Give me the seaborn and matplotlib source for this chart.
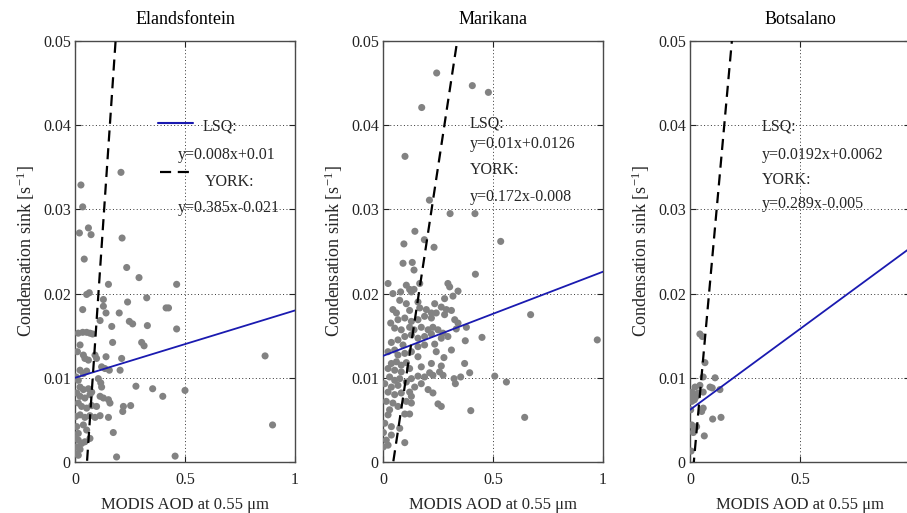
import numpy as np
import pandas as pd
import matplotlib
matplotlib.use("Agg")
import matplotlib.pyplot as plt
import seaborn as sns

# ---------------- data ----------------
sites = ["Elandsfontein", "Marikana", "Botsalano"]

elands_aod = [0.209, 0.027, 0.035, 0.061, 0.020, 0.073, 0.214, 0.042, 0.235, 0.291, 0.152, 0.462,
              0.053, 0.065, 0.129, 0.326, 0.239, 0.129, 0.035, 0.414, 0.425,
              0.141, 0.201, 0.114, 0.247, 0.262, 0.329, 0.462, 0.167,
              0.015, 0.035, 0.053, 0.068, 0.080,
              0.023, 0.171, 0.303, 0.314,
              0.038, 0.045, 0.061, 0.011, 0.141, 0.212, 0.091, 0.098,
              0.121, 0.136, 0.156, 0.205,
              0.023, 0.038, 0.053,
              0.005, 0.015,
              0.106, 0.117, 0.121,
              0.277, 0.353, 0.500, 0.399,
              0.023, 0.038, 0.061, 0.076,
              0.008, 0.023, 0.045, 0.068,
              0.114, 0.129, 0.152, 0.159,
              0.220, 0.253, 0.217,
              0.015, 0.030, 0.053, 0.076, 0.098,
              0.003, 0.023, 0.045, 0.068, 0.091, 0.114, 0.152,
              0.174,
              0.008, 0.038, 0.053, 0.015,
              0.003, 0.015, 0.030, 0.045, 0.068,
              0.008, 0.023, 0.002, 0.015,
              0.189, 0.455,
              0.864, 0.898]
elands_cs = [0.0344, 0.0329, 0.0303, 0.0278, 0.0272, 0.0270, 0.0266, 0.0241, 0.0231, 0.0219, 0.0211, 0.0211,
             0.0199, 0.0201, 0.0193, 0.0195, 0.0190, 0.0185, 0.0181, 0.0183, 0.0183,
             0.0177, 0.0177, 0.0168, 0.0167, 0.0164, 0.0162, 0.0158, 0.0161,
             0.0153, 0.0154, 0.0154, 0.0153, 0.0152,
             0.0139, 0.0142, 0.0142, 0.0138,
             0.0127, 0.0123, 0.0121, 0.0131, 0.0125, 0.0123, 0.0127, 0.0123,
             0.0113, 0.0111, 0.0109, 0.0109,
             0.0109, 0.0105, 0.0108,
             0.0101, 0.0097,
             0.0099, 0.0094, 0.0089,
             0.0090, 0.0087, 0.0085, 0.0078,
             0.0089, 0.0086, 0.0087, 0.0083,
             0.0082, 0.0078, 0.0076, 0.0080,
             0.0078, 0.0076, 0.0074, 0.0070,
             0.0066, 0.0067, 0.0060,
             0.0070, 0.0066, 0.0064, 0.0067, 0.0066,
             0.0054, 0.0056, 0.0053, 0.0055, 0.0053, 0.0055, 0.0053,
             0.0035,
             0.0042, 0.0044, 0.0038, 0.0034,
             0.0028, 0.0026, 0.0022, 0.0024, 0.0028,
             0.0018, 0.0015, 0.0010, 0.0008,
             0.0006, 0.0007,
             0.0126, 0.0044]

marik_aod = [0.244, 0.406, 0.479, 0.176, 0.100, 0.211, 0.305, 0.418, 0.145, 0.095, 0.188, 0.232, 0.535,
             0.091, 0.133, 0.141, 0.420,
             0.023, 0.106, 0.121, 0.129, 0.141, 0.167, 0.295, 0.303, 0.341,
             0.045, 0.080, 0.318, 0.280, 0.076, 0.159, 0.106, 0.235,
             0.197, 0.242, 0.265, 0.288, 0.045, 0.061, 0.121, 0.167, 0.311, 0.220,
             0.035, 0.068, 0.099, 0.129, 0.159, 0.189, 0.220, 0.280, 0.326, 0.341,
             0.053, 0.083, 0.121, 0.141, 0.174, 0.205, 0.227, 0.250, 0.273, 0.333, 0.379,
             0.099, 0.129, 0.159, 0.189, 0.220, 0.265, 0.295, 0.450, 0.374,
             0.038, 0.068, 0.091, 0.159, 0.189, 0.235, 0.242,
             0.023, 0.053, 0.068, 0.099, 0.129, 0.159, 0.311, 0.277,
             0.038, 0.061, 0.083, 0.106, 0.174, 0.220, 0.265, 0.371,
             0.023, 0.053, 0.083, 0.121, 0.212, 0.257, 0.273, 0.394,
             0.159, 0.189, 0.227, 0.323, 0.353, 0.508, 0.561, 0.329,
             0.030, 0.053, 0.076, 0.106, 0.129,
             0.008, 0.038, 0.068, 0.144, 0.174,
             0.205, 0.227,
             0.023, 0.053, 0.083, 0.121, 0.129,
             0.015, 0.045, 0.106, 0.129,
             0.250, 0.265, 0.644, 0.399,
             0.030, 0.023, 0.068, 0.099, 0.121,
             0.008, 0.038, 0.076, 0.002, 0.038, 0.015, 0.002, 0.099, 0.023,
             0.974, 0.671]
marik_cs = [0.0462, 0.0447, 0.0439, 0.0421, 0.0363, 0.0311, 0.0295, 0.0295, 0.0274, 0.0259, 0.0264, 0.0255, 0.0262,
            0.0236, 0.0237, 0.0228, 0.0223,
            0.0212, 0.0210, 0.0205, 0.0202, 0.0205, 0.0212, 0.0212, 0.0208, 0.0203,
            0.0200, 0.0202, 0.0197, 0.0194, 0.0192, 0.0190, 0.0188, 0.0188,
            0.0181, 0.0177, 0.0184, 0.0181, 0.0181, 0.0177, 0.0180, 0.0183, 0.0180, 0.0177,
            0.0165, 0.0169, 0.0171, 0.0167, 0.0169, 0.0173, 0.0171, 0.0175, 0.0169, 0.0165,
            0.0159, 0.0157, 0.0160, 0.0157, 0.0160, 0.0157, 0.0160, 0.0157, 0.0153, 0.0158, 0.0160,
            0.0149, 0.0151, 0.0147, 0.0149, 0.0152, 0.0147, 0.0149, 0.0148, 0.0144,
            0.0142, 0.0145, 0.0139, 0.0137, 0.0139, 0.0140, 0.0131,
            0.0131, 0.0133, 0.0127, 0.0129, 0.0131, 0.0125, 0.0133, 0.0124,
            0.0117, 0.0119, 0.0115, 0.0118, 0.0113, 0.0117, 0.0114, 0.0117,
            0.0111, 0.0109, 0.0107, 0.0111, 0.0106, 0.0107, 0.0103, 0.0106,
            0.0102, 0.0101, 0.0103, 0.0099, 0.0101, 0.0102, 0.0095, 0.0093,
            0.0101, 0.0097, 0.0099, 0.0095, 0.0099,
            0.0093, 0.0089, 0.0091, 0.0089, 0.0093,
            0.0086, 0.0082,
            0.0083, 0.0080, 0.0082, 0.0083, 0.0078,
            0.0072, 0.0070, 0.0072, 0.0070,
            0.0069, 0.0066, 0.0053, 0.0061,
            0.0062, 0.0056, 0.0066, 0.0057, 0.0057,
            0.0046, 0.0042, 0.0040, 0.0035, 0.0032, 0.0026, 0.0018, 0.0023, 0.0020,
            0.0145, 0.0175]

botsa_aod = [0.045, 0.056, 0.068, 0.114, 0.060, 0.045, 0.023, 0.091, 0.101, 0.136, 0.008, 0.015,
             0.030, 0.003, 0.060, 0.038, 0.008, 0.020, 0.060, 0.053, 0.103, 0.141, 0.008, 0.020,
             0.015, 0.030, 0.065, 0.005, 0.003]
botsa_cs = [0.0152, 0.0149, 0.0118, 0.0100, 0.0101, 0.0091, 0.0089, 0.0089, 0.0088, 0.0086, 0.0083, 0.0081,
            0.0078, 0.0078, 0.0083, 0.0082, 0.0072, 0.0074, 0.0064, 0.0060, 0.0051, 0.0053, 0.0044, 0.0040,
            0.0035, 0.0042, 0.0031, 0.0013, 0.0062]

# fitted regression lines (least squares and York)
lsq_slope = [0.008, 0.01, 0.0192]
lsq_icpt = [0.01, 0.0126, 0.0062]
york_slope = [0.385, 0.172, 0.289]
york_icpt = [-0.021, -0.008, -0.005]
lsq_labels = ["y=0.008x+0.01", "y=0.01x+0.0126", "y=0.0192x+0.0062"]
york_labels = ["y=0.385x-0.021", "y=0.172x-0.008", "y=0.289x-0.005"]

x_ticks = [0, 0.5, 1]
x_tick_labels = ["0", "0.5", "1"]
y_ticks = [0, 0.01, 0.02, 0.03, 0.04, 0.05]
y_tick_labels = ["0", "0.01", "0.02", "0.03", "0.04", "0.05"]

x_label = "MODIS AOD at 0.55 \u03bcm"
y_label = "Condensation sink [s$^{-1}$]"

# ---------------- style ----------------
sns.set_style("ticks")
plt.rcParams["font.family"] = ["Liberation Serif", "DejaVu Serif"]
plt.rcParams["mathtext.fontset"] = "custom"
plt.rcParams["mathtext.rm"] = "Liberation Serif"
plt.rcParams["mathtext.it"] = "Liberation Serif:italic"
plt.rcParams["mathtext.default"] = "regular"

frames = [
    pd.DataFrame({"aod": elands_aod, "cs": elands_cs}),
    pd.DataFrame({"aod": marik_aod, "cs": marik_cs}),
    pd.DataFrame({"aod": botsa_aod, "cs": botsa_cs}),
]

W, H = 907, 513
fig = plt.figure(figsize=(W / 100, H / 100), dpi=100)
fig.patch.set_facecolor("white")

ax_left = [75, 383, 690]
ax_w, ax_top, ax_bot = 220, 41, 462

# legend/annotation text placement (axes fraction)
text_pos = [
    {"lsq": (0.582, 0.798), "lsq_eq": (0.468, 0.729), "york": (0.59, 0.665), "york_eq": (0.468, 0.603)},
    {"lsq": (0.395, 0.803), "lsq_eq": (0.395, 0.755), "york": (0.395, 0.694), "york_eq": (0.395, 0.629)},
    {"lsq": (0.326, 0.798), "lsq_eq": (0.326, 0.729), "york": (0.326, 0.670), "york_eq": (0.326, 0.613)},
]

xs = np.linspace(0, 1, 400)
for i, site in enumerate(sites):
    ax = fig.add_axes([ax_left[i] / W, (H - ax_bot) / H, ax_w / W, (ax_bot - ax_top) / H])
    ax.set_facecolor("white")
    ax.grid(True, linestyle=(0, (1, 2.5)), color="#333333", linewidth=0.7)
    ax.set_axisbelow(True)

    sns.scatterplot(data=frames[i], x="aod", y="cs", ax=ax, color="#828282",
                    s=26, linewidth=0, edgecolor="none", zorder=3)

    ax.plot(xs, lsq_slope[i] * xs + lsq_icpt[i], color="#1a1ab0", lw=1.3, zorder=4)
    ax.plot(xs, york_slope[i] * xs + york_icpt[i], color="black", lw=1.6,
            linestyle=(0, (5, 3)), zorder=4)

    ax.set_xlim(0, 1)
    ax.set_ylim(0, 0.05)
    ax.set_xticks(x_ticks)
    # the last panel runs past the figure edge, so its "1" label falls outside
    labels = x_tick_labels if i < 2 else x_tick_labels[:-1] + [""]
    ax.set_xticklabels(labels)
    ax.set_yticks(y_ticks)
    ax.set_yticklabels(y_tick_labels)
    ax.tick_params(direction="in", length=4, width=0.8, top=True, right=True,
                   labelsize=11.5, colors="#222222")
    ax.tick_params(axis="x", pad=7)
    ax.tick_params(axis="y", pad=3)
    for sp in ax.spines.values():
        sp.set_visible(True)
        sp.set_color("#4a4a4a")
        sp.set_linewidth(1.0)

    ax.set_title(site, fontsize=13, pad=12, color="black")
    ax.set_xlabel(x_label, fontsize=12, labelpad=7)
    ax.set_ylabel(y_label, fontsize=13, labelpad=4)

    tp = text_pos[i]
    fs = 11.5
    ax.text(*tp["lsq"], "LSQ:", transform=ax.transAxes, fontsize=fs, va="center", ha="left", zorder=5)
    ax.text(*tp["lsq_eq"], lsq_labels[i], transform=ax.transAxes, fontsize=fs, va="center", ha="left", zorder=5)
    ax.text(*tp["york"], "YORK:", transform=ax.transAxes, fontsize=fs, va="center", ha="left", zorder=5)
    ax.text(*tp["york_eq"], york_labels[i], transform=ax.transAxes, fontsize=fs, va="center", ha="left", zorder=5)

    if i == 0:
        # legend handles for the two fits
        ax.plot([0.377, 0.536], [0.805, 0.805], transform=ax.transAxes, color="#1a1ab0", lw=1.5, zorder=5)
        ax.plot([0.386, 0.523], [0.689, 0.689], transform=ax.transAxes, color="black", lw=1.6,
                linestyle=(0, (5, 3)), zorder=5)

fig.savefig("out.png", dpi=100, facecolor="white")
